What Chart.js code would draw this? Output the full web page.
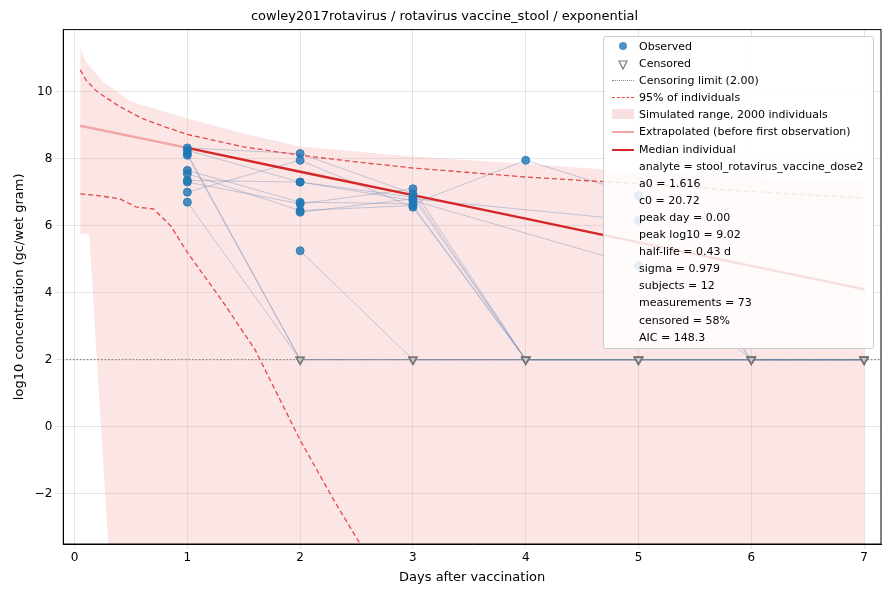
<!DOCTYPE html><html><head><script src="https://cdn.jsdelivr.net/npm/chart.js@4"></script>
<style>body{margin:0;background:#fff;font-family:"DejaVu Sans";}#w{position:relative;width:890px;height:590px}
#lg{position:absolute;left:603px;top:36px;width:271px;height:313px;border:1px solid #ccc;border-radius:3px;background:rgba(255,255,255,0.85);font-size:11px;color:#000;box-sizing:border-box;padding:1px 0 0 0}
#lg div{height:17.1px;line-height:17.1px;position:relative;padding-left:35px;white-space:nowrap}
#lg i{position:absolute;left:8px;top:8px;width:22px;height:0}
</style></head><body><div id="w"><canvas id="c" width="890" height="590"></canvas>
<div id="lg">
<div><i style="top:4px;left:15px;width:8px;height:8px;border-radius:50%;background:rgba(31,119,180,0.8)"></i>Observed</div>
<div><i style="top:3px;left:14px;border:none"><svg width="10" height="10"><polygon points="1,1 9,1 5,9" fill="none" stroke="#777" stroke-width="1.2"/></svg></i>Censored</div>
<div><i style="border-top:1.5px dotted #888"></i>Censoring limit (2.00)</div>
<div><i style="border-top:1.5px dashed #e34a4a"></i>95% of individuals</div>
<div><i style="top:3px;height:10px;background:#f9e0e0"></i>Simulated range, 2000 individuals</div>
<div><i style="border-top:2.5px solid #f4a5a5"></i>Extrapolated (before first observation)</div>
<div><i style="border-top:2.5px solid #d62728"></i>Median individual</div>
<div>analyte = stool_rotavirus_vaccine_dose2</div>
<div>a0 = 1.616</div><div>c0 = 20.72</div><div>peak day = 0.00</div><div>peak log10 = 9.02</div>
<div>half-life = 0.43 d</div><div>sigma = 0.979</div><div>subjects = 12</div><div>measurements = 73</div>
<div>censored = 58%</div><div>AIC = 148.3</div>
</div></div>
<script>
const days=[1,2,3,4,5,6,7];
const subjects=[
[8.32,8.15,6.95,2,2,2,2],
[8.25,7.3,6.85,2,2,2,2],
[8.15,2,2,2,2,2,2],
[8.1,2,2,2,2,2,2],
[7.65,6.7,6.65,7.95,6.9,2,2],
[7.55,6.45,6.6,2,2,2,2],
[7.35,7.3,6.75,null,4.8,2,2],
[7.3,6.65,7.1,2,2,2,2],
[7.0,7.95,6.55,2,2,2,2],
[6.7,2,2,2,2,2,2],
[null,5.25,2,2,2,2,2],
[null,6.4,6.8,null,6.15,2,2]];
const limit=2;
const medianX=[1,2,3,4,5,6,7], medianY=[8.32,7.61,6.91,6.21,5.5,4.8,4.1];
const extrapX=[0.05,1], extrapY=[8.98,8.32];
const upX=[0.05,0.1,0.2,0.4,0.6,0.8,1,1.5,2,2.5,3,4,5,6,7];
const upY=[10.65,10.35,10.0,9.55,9.2,8.95,8.72,8.35,8.1,7.9,7.72,7.45,7.25,7.02,6.82];
const loX=[0.05,0.2,0.4,0.55,0.7,0.85,1.0,1.3,1.6,2.0,2.3,2.55];
const loY=[6.95,6.9,6.8,6.55,6.5,6.0,5.2,3.8,2.3,-0.4,-2.2,-3.6];
const bandX=[0.05,0.1,0.25,0.5,0.75,1,1.5,2,3,4,5,6,7];
const bandHi=[11.3,10.9,10.3,9.7,9.45,9.2,8.75,8.36,8.06,7.85,7.6,7.45,7.3];
const bandLoX=[0.05,0.12,0.13,0.3,7], bandLoY=[5.75,5.75,5.75,-3.6,-3.6];
const P=(xs,ys)=>xs.map((x,i)=>({x,y:ys[i]}));
const ds=[];
ds.push({data:P(bandX,bandHi),borderWidth:0,pointRadius:0,fill:'+1',backgroundColor:'rgba(240,160,160,0.28)',order:10});
ds.push({data:P(bandLoX,bandLoY),borderWidth:0,pointRadius:0,fill:false,order:10});
subjects.forEach(s=>{ds.push({data:days.map((d,i)=>s[i]==null?null:{x:d,y:s[i]}).filter(p=>p),borderColor:'rgba(90,125,175,0.35)',borderWidth:1,pointRadius:0,order:5});});
ds.push({data:P(upX,upY),borderColor:'#e34a4a',borderDash:[5,3],borderWidth:1.3,pointRadius:0,order:3});
ds.push({data:P(loX,loY),borderColor:'#e34a4a',borderDash:[5,3],borderWidth:1.3,pointRadius:0,order:3});
ds.push({data:P(extrapX,extrapY),borderColor:'#f4a5a5',borderWidth:2.5,pointRadius:0,order:2});
ds.push({data:P(medianX,medianY),borderColor:'#d62728',borderWidth:2.5,pointRadius:0,order:1});
ds.push({data:[{x:-0.2,y:limit},{x:7.3,y:limit}],borderColor:'#888',borderDash:[1.5,2],borderWidth:1.3,pointRadius:0,order:4});
const obs=[],cen=[];
subjects.forEach(s=>s.forEach((v,i)=>{if(v==null)return;(v===limit?cen:obs).push({x:days[i],y:v});}));
ds.push({type:'scatter',data:obs,pointRadius:4,backgroundColor:'rgba(31,119,180,0.8)',borderColor:'rgba(31,119,180,0.8)',order:0});
ds.push({type:'scatter',data:cen,pointStyle:'triangle',rotation:180,pointRadius:4.5,backgroundColor:'rgba(200,200,200,0.5)',borderColor:'#777',borderWidth:1.3,order:0});
const frame={id:'frame',afterDraw(c){const a=c.chartArea,x=c.ctx;x.save();x.strokeStyle='#000';x.lineWidth=1;x.strokeRect(a.left,a.top,a.right-a.left,a.bottom-a.top);x.restore();}};
new Chart(document.getElementById('c'),{type:'line',data:{datasets:ds},plugins:[frame],options:{responsive:false,animation:false,
layout:{padding:{left:8,right:9,top:5,bottom:5}},
plugins:{legend:{display:false},tooltip:{enabled:false},title:{display:true,text:'cowley2017rotavirus / rotavirus vaccine_stool / exponential',font:{family:'DejaVu Sans',size:13,weight:'normal'},color:'#000',padding:{top:4,bottom:5}}},
scales:{x:{type:'linear',min:-0.1,max:7.15,afterBuildTicks:a=>{a.ticks=[0,1,2,3,4,5,6,7].map(v=>({value:v}))},
title:{display:true,text:'Days after vaccination',font:{family:'DejaVu Sans',size:13},color:'#000',padding:{top:2,bottom:0}},
ticks:{font:{family:'DejaVu Sans',size:12},color:'#000',padding:2},grid:{color:'rgba(0,0,0,0.1)',tickLength:5},border:{color:'#000'}},
y:{min:-3.5,max:11.85,afterBuildTicks:a=>{a.ticks=[-2,0,2,4,6,8,10].map(v=>({value:v}))},
title:{display:true,text:'log10 concentration (gc/wet gram)',font:{family:'DejaVu Sans',size:13},color:'#000'},
ticks:{font:{family:'DejaVu Sans',size:12},color:'#000',callback:v=>v<0?'\u2212'+(-v):v},grid:{color:'rgba(0,0,0,0.1)'},border:{color:'#000'}}}}});
</script></body></html>
